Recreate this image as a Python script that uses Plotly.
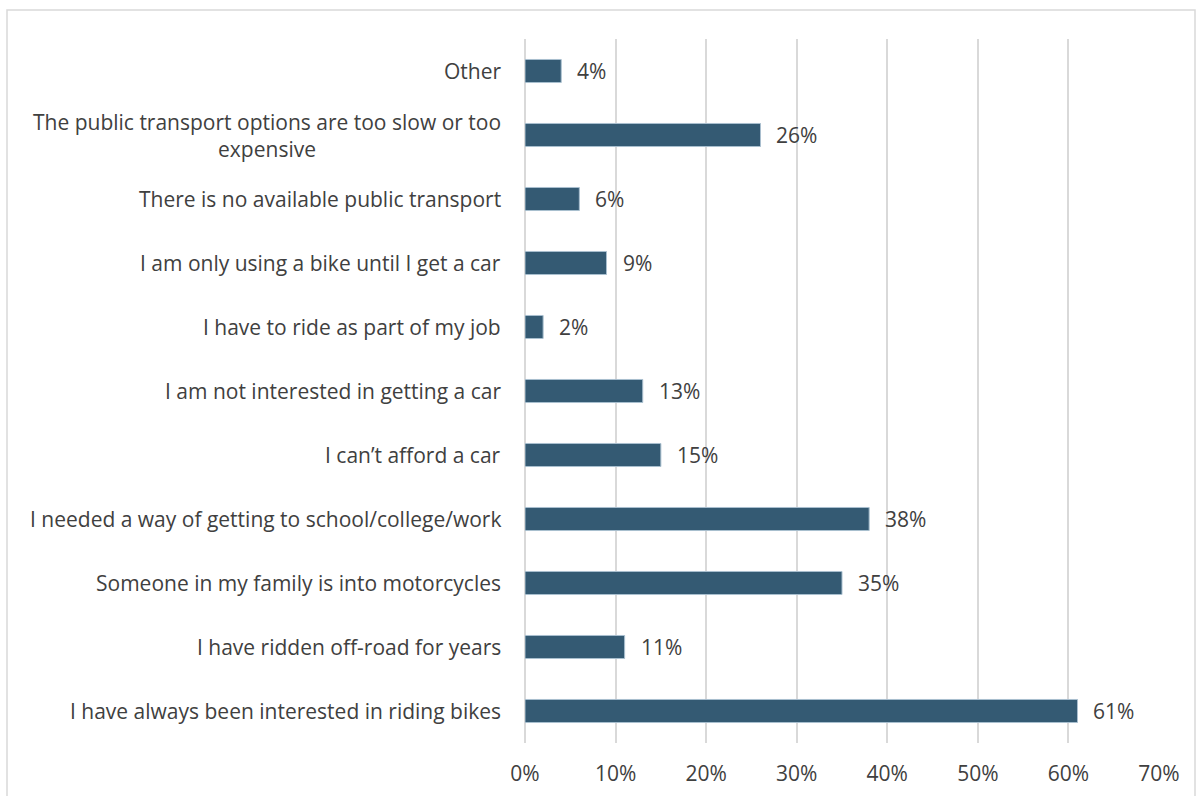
import plotly.graph_objects as go

# Reasons for riding, listed top to bottom
categories = [
    "Other",
    "The public transport options are too slow or too<br>expensive",
    "There is no available public transport",
    "I am only using a bike until I get a car",
    "I have to ride as part of my job",
    "I am not interested in getting a car",
    "I can\u2019t afford a car",
    "I needed a way of getting to school/college/work",
    "Someone in my family is into motorcycles",
    "I have ridden off-road for years",
    "I have always been interested in riding bikes",
]
shares = [4, 26, 6, 9, 2, 13, 15, 38, 35, 11, 61]
tick_values = [0, 10, 20, 30, 40, 50, 60, 70]
tick_labels = ["0%", "10%", "20%", "30%", "40%", "50%", "60%", "70%"]

W, H = 1203, 796
L, R, T, B = 525, 44, 39, 53
FONT = "Open Sans"
TXT = "#404040"
FS = 21

fig = go.Figure()
fig.add_trace(go.Bar(
    y=categories,
    x=shares,
    orientation="h",
    width=0.36,
    marker=dict(color="#345a73", line=dict(color="#a9bfcf", width=1)),
    hoverinfo="skip",
))

annotations = []
for cat, v in zip(categories, shares):
    # category label to the left of the plot
    annotations.append(dict(
        x=0, xref="paper", y=cat, yref="y",
        text=cat, showarrow=False, xanchor="right", yanchor="middle",
        xshift=-22, align="center",
        font=dict(family=FONT, size=FS, color=TXT),
    ))
    # value label after the bar end
    annotations.append(dict(
        x=v, xref="x", y=cat, yref="y",
        text=f"{v}%", showarrow=False, xanchor="left", yanchor="middle",
        xshift=14,
        font=dict(family=FONT, size=FS, color=TXT),
    ))

pw, ph = W - L - R, H - T - B
frame = dict(
    type="rect", xref="paper", yref="paper",
    x0=(7 - L) / pw, x1=(1195 - L) / pw,
    y0=(H - 820 - B) / ph, y1=(H - 10 - B) / ph,
    line=dict(color="#d9d9d9", width=1.5), fillcolor="rgba(0,0,0,0)",
    layer="below",
)

fig.update_layout(
    width=W, height=H,
    margin=dict(l=L, r=R, t=T, b=B, autoexpand=False),
    paper_bgcolor="white", plot_bgcolor="white",
    showlegend=False,
    annotations=annotations,
    shapes=[frame],
    xaxis=dict(
        range=[0, 70], tickvals=tick_values, ticktext=tick_labels,
        showgrid=True, gridcolor="#d9d9d9", gridwidth=2,
        zeroline=True, zerolinecolor="#d9d9d9", zerolinewidth=2,
        showline=False, ticks="",
        tickfont=dict(family=FONT, size=FS, color=TXT),
        ticklabelstandoff=16,
        fixedrange=True,
    ),
    yaxis=dict(
        autorange="reversed", showticklabels=False, showgrid=False,
        zeroline=False, showline=False, ticks="", fixedrange=True,
    ),
)

fig.write_html("out.html")
